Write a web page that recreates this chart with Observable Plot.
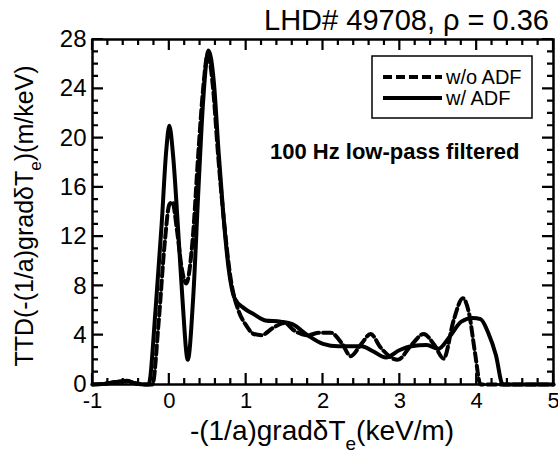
<!DOCTYPE html>
<html>
<head>
<meta charset="utf-8">
<script src="https://cdn.jsdelivr.net/npm/d3@7"></script>
<script src="https://cdn.jsdelivr.net/npm/@observablehq/plot@0.6"></script>
<style>
  html, body { margin: 0; padding: 0; background: #fff; }
  #chart svg { display: block; }
</style>
</head>
<body>
<div id="chart"></div>
<script>
// ---- data ----
const withADF_x = [-1, -0.85, -0.7, -0.55, -0.45, -0.3, -0.27, -0.18, -0.1, -0.04, 0, 0.05, 0.11, 0.17, 0.24, 0.31, 0.38, 0.44, 0.51, 0.58, 0.64, 0.7, 0.77, 0.85, 0.97, 1.1, 1.25, 1.45, 1.6, 1.8, 2.0, 2.2, 2.5, 2.65, 2.82, 3.0, 3.15, 3.35, 3.5, 3.65, 3.8, 3.95, 4.05, 4.15, 4.25, 4.34, 4.6, 5];
const withADF_y = [0, 0.05, 0.2, 0.3, 0.1, 0, 0, 6, 13, 19, 21, 18.5, 13, 7, 2, 7, 16, 23, 27.1, 24.5, 19, 14, 9.5, 7, 6.2, 5.7, 5.2, 5.1, 4.9, 4.0, 3.3, 3.1, 3.1, 2.7, 2.2, 2.8, 3.1, 3.2, 2.9, 3.9, 5.1, 5.4, 5.3, 4.2, 2.4, 0, 0, 0];

const withoutADF_x = [-1, -0.85, -0.7, -0.55, -0.45, -0.3, -0.22, -0.14, -0.06, 0, 0.04, 0.1, 0.16, 0.22, 0.3, 0.38, 0.44, 0.5, 0.57, 0.63, 0.7, 0.8, 0.9, 1.0, 1.1, 1.2, 1.35, 1.5, 1.62, 1.8, 1.95, 2.1, 2.25, 2.36, 2.5, 2.62, 2.75, 2.97, 3.15, 3.31, 3.45, 3.57, 3.7, 3.82, 3.9, 3.98, 4.05, 4.5, 5];
const withoutADF_y = [0, 0.05, 0.2, 0.25, 0.1, 0, 0, 5, 11.5, 14.6, 14.8, 12.5, 9.5, 8.2, 11.5, 19, 24, 26.8, 24, 19, 14, 8.5, 6, 4.8, 4.1, 4.0, 4.6, 5.0, 4.4, 4.0, 4.2, 4.2, 3.3, 2.3, 3.3, 4.1, 3.0, 2.0, 3.2, 4.1, 3.2, 2.1, 5.2, 7.0, 5.8, 2.5, 0, 0, 0];

const xMajorTicks = [-1, 0, 1, 2, 3, 4, 5];
const xMinorTicks = [-0.8, -0.6, -0.4, -0.2, 0.2, 0.4, 0.6, 0.8, 1.2, 1.4, 1.6, 1.8, 2.2, 2.4, 2.6, 2.8, 3.2, 3.4, 3.6, 3.8, 4.2, 4.4, 4.6, 4.8];
const yMajorTicks = [0, 4, 8, 12, 16, 20, 24, 28];
const yMinorTicks = [1, 2, 3, 5, 6, 7, 9, 10, 11, 13, 14, 15, 17, 18, 19, 21, 22, 23, 25, 26, 27];

const seriesNames = ["w/o ADF", "w/ ADF"];
const titleText = "LHD# 49708, \u03c1 = 0.36";
const noteText = "100 Hz low-pass filtered";

// ---- tables ----
const withADF = withADF_x.map((x, i) => ({x, y: withADF_y[i]}));
const withoutADF = withoutADF_x.map((x, i) => ({x, y: withoutADF_y[i]}));

const W = 558, H = 455;
const font = "Liberation Sans, Arial, Helvetica, sans-serif";

const chart = Plot.plot({
  width: W,
  height: H,
  marginLeft: 92,
  marginRight: 5,
  marginTop: 39,
  marginBottom: 71,
  style: {fontFamily: font, background: "#fff", color: "#000", overflow: "visible"},
  x: {domain: [-1, 5]},
  y: {domain: [0, 28]},
  marks: [
    Plot.axisX(xMajorTicks, {anchor: "bottom", tickSize: 0, tickPadding: 8, fontSize: 22, label: null, tickFormat: d => d < 0 ? "-" + Math.abs(d) : String(d)}),
    Plot.axisY(yMajorTicks, {anchor: "left", tickSize: 0, tickPadding: 6, fontSize: 24, label: null}),
    Plot.line(withoutADF, {x: "x", y: "y", curve: "monotone-x", stroke: "#000", strokeWidth: 4, strokeDasharray: "9,4"}),
    Plot.line(withADF, {x: "x", y: "y", curve: "monotone-x", stroke: "#000", strokeWidth: 4}),
    Plot.frame({stroke: "#000", strokeWidth: 2.5, fill: "none"})
  ]
});

document.getElementById("chart").appendChild(chart);

// ---- inward ticks on all four sides, placed with Plot's own scales ----
const svg = d3.select(chart);
const sx = chart.scale("x"), sy = chart.scale("y");
const X = v => sx.apply(v), Y = v => sy.apply(v);
const xL = X(-1), xR = X(5), yB = Y(0), yT = Y(28);
let d = "";
xMinorTicks.forEach(v => { d += `M${X(v)},${yB}v-6M${X(v)},${yT}v6`; });
xMajorTicks.forEach(v => { d += `M${X(v)},${yB}v-11M${X(v)},${yT}v11`; });
yMinorTicks.forEach(v => { d += `M${xL},${Y(v)}h6M${xR},${Y(v)}h-6`; });
yMajorTicks.forEach(v => { d += `M${xL},${Y(v)}h11M${xR},${Y(v)}h-11`; });
svg.append("path").attr("d", d).attr("fill", "none").attr("stroke", "#000").attr("stroke-width", 2.2);

// ---- labels, title, legend ----
svg.append("text")
  .attr("x", 549).attr("y", 30)
  .attr("text-anchor", "end")
  .attr("font-family", font).attr("font-size", 29).attr("fill", "#000")
  .text(titleText);

const xt = svg.append("text")
  .attr("x", 322).attr("y", 440)
  .attr("text-anchor", "middle")
  .attr("font-family", font).attr("font-size", 28).attr("fill", "#000");
xt.append("tspan").text("-(1/a)grad\u03b4T");
xt.append("tspan").attr("dy", 10).attr("font-size", 19).text("e");
xt.append("tspan").attr("dy", -10).text("(keV/m)");

const yt = svg.append("text")
  .attr("transform", "translate(33,216) rotate(-90)")
  .attr("text-anchor", "middle")
  .attr("font-family", font).attr("font-size", 25).attr("fill", "#000");
yt.append("tspan").text("TTD(-(1/a)grad\u03b4T");
yt.append("tspan").attr("dy", 8).attr("font-size", 17).text("e");
yt.append("tspan").attr("dy", -8).text(")(m/keV)");

const lg = svg.append("g").attr("font-family", font).attr("font-size", 20).attr("text-anchor", "start");
lg.append("rect").attr("x", 372).attr("y", 56).attr("width", 160).attr("height", 62)
  .attr("fill", "#fff").attr("stroke", "#000").attr("stroke-width", 1.5);
lg.append("line").attr("x1", 383).attr("x2", 442).attr("y1", 77).attr("y2", 77)
  .attr("stroke", "#000").attr("stroke-width", 4).attr("stroke-dasharray", "9,4");
lg.append("line").attr("x1", 383).attr("x2", 442).attr("y1", 98).attr("y2", 98)
  .attr("stroke", "#000").attr("stroke-width", 4);
lg.append("text").attr("x", 446).attr("y", 84).attr("text-anchor", "start").text(seriesNames[0]);
lg.append("text").attr("x", 446).attr("y", 105).attr("text-anchor", "start").text(seriesNames[1]);

svg.append("text")
  .attr("x", 270).attr("y", 159)
  .attr("text-anchor", "start")
  .attr("font-family", font).attr("font-size", 22).attr("font-weight", "bold").attr("fill", "#000")
  .text(noteText);
</script>
</body>
</html>
